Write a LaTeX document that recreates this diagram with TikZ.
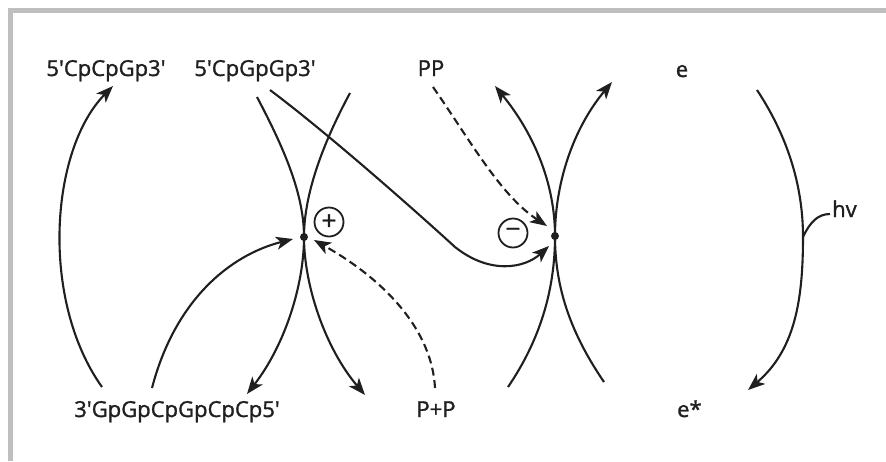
\documentclass[tikz,border=0pt]{standalone}
\usepackage{fontspec}
\newfontfamily\labfont{Open Sans}[FakeBold=1.3]
\usetikzlibrary{arrows.meta}
\begin{document}
\begin{tikzpicture}[x=1pt,y=-1pt,
  ink/.style={line width=2.1pt, draw=black!88},
  tip/.style={-{Stealth[length=17pt,width=13pt,inset=4.5pt]}},
  dashedline/.style={dash pattern=on 8pt off 4.5pt},
  lab/.style={font=\labfont\fontsize{22}{26}\selectfont, text=black!88, inner sep=0pt, anchor=base},
  junction/.style={circle, fill=black!88, inner sep=0pt, minimum size=8pt},
  chargebox/.style={circle, draw=black!88, line width=1.8pt, minimum size=29pt, inner sep=0pt,
    font=\labfont\fontsize{26}{26}\selectfont, text=black!88}
]
\useasboundingbox (0,0) rectangle (886,461);

% frame
\draw[line width=5pt, draw=black!25] (10,461) -- (10,10) -- (886,10);

% labels
\node[lab] (cpcpg)  at (106,76) {5\textquotesingle CpCpGp3\textquotesingle};
\node[lab] (cpgpg)  at (255,76) {5\textquotesingle CpGpGp3\textquotesingle};
\node[lab] (pp)     at (431,76) {PP};
\node[lab] (e)      at (682,77) {e};
\node[lab] (hexa)   at (177,417) {3\textquotesingle GpGpCpGpCpCp5\textquotesingle};
\node[lab] (ppi)    at (436,417) {P+P};
\node[lab, anchor=base west] (estar) at (677,417) {e*};
\node[lab, anchor=base west] (hv)    at (832,217) {hv};

% junction points and charges
\node[junction] (jl) at (304,237) {};
\node[junction] (jr) at (555,236) {};
\node[chargebox] (plus)  at (329,222) {+};
\node[chargebox] (minus) at (513,233) {−};

% end points of the curves
\coordinate (a1s) at (102,387);
\coordinate (a1e) at (113,86);
\coordinate (a2s) at (152,388);
\coordinate (a2e) at (293,239);
\coordinate (lLt) at (257,97);
\coordinate (lLb) at (247,394);
\coordinate (lRt) at (350,93);
\coordinate (lRb) at (365,395);
\coordinate (ss)  at (270,90);
\coordinate (sm)  at (455,247);
\coordinate (se)  at (549,246);
\coordinate (dps) at (433,87);
\coordinate (dpe) at (547,226);
\coordinate (dqs) at (435,388);
\coordinate (dqe) at (314,240);
\coordinate (rLb) at (508,387);
\coordinate (rLt) at (495,86);
\coordinate (rRb) at (604,382);
\coordinate (rRt) at (612,82);
\coordinate (ht)  at (757,90);
\coordinate (hm)  at (803,237);
\coordinate (hb)  at (748,390);
\coordinate (hl)  at (830,214);

% left side
\draw[ink,tip] (a1s) .. controls (40,300) and (50,150) .. (a1e);
\draw[ink,tip] (a2s) .. controls (175,300) and (230,255) .. (a2e);
\draw[ink,tip] (lLt) .. controls (285,150) and (304,195) .. (jl.center)
               .. controls (304,285) and (285,345) .. (lLb);
\draw[ink,tip] (lRt) .. controls (322,145) and (304,195) .. (jl.center)
               .. controls (304,285) and (325,348) .. (lRb);

% crossing transfer
\draw[ink,tip] (ss) .. controls (330,135) and (420,215) .. (sm)
               .. controls (490,275) and (525,268) .. (se);
\draw[ink,tip,dashedline] (dps) .. controls (470,140) and (500,195) .. (dpe);
\draw[ink,tip,dashedline] (dqs) .. controls (432,330) and (385,280) .. (dqe);

% right pair
\draw[ink,tip] (rLb) .. controls (540,340) and (555,290) .. (jr.center)
               .. controls (555,185) and (535,135) .. (rLt);
\draw[ink,tip] (rRb) .. controls (572,335) and (555,290) .. (jr.center)
               .. controls (555,185) and (572,130) .. (rRt);

% excitation
\draw[ink,tip] (ht) .. controls (790,140) and (803,190) .. (hm)
               .. controls (803,300) and (795,350) .. (hb);
\draw[ink] (hm) .. controls (810,222) and (818,214) .. (hl);
\end{tikzpicture}
\end{document}
